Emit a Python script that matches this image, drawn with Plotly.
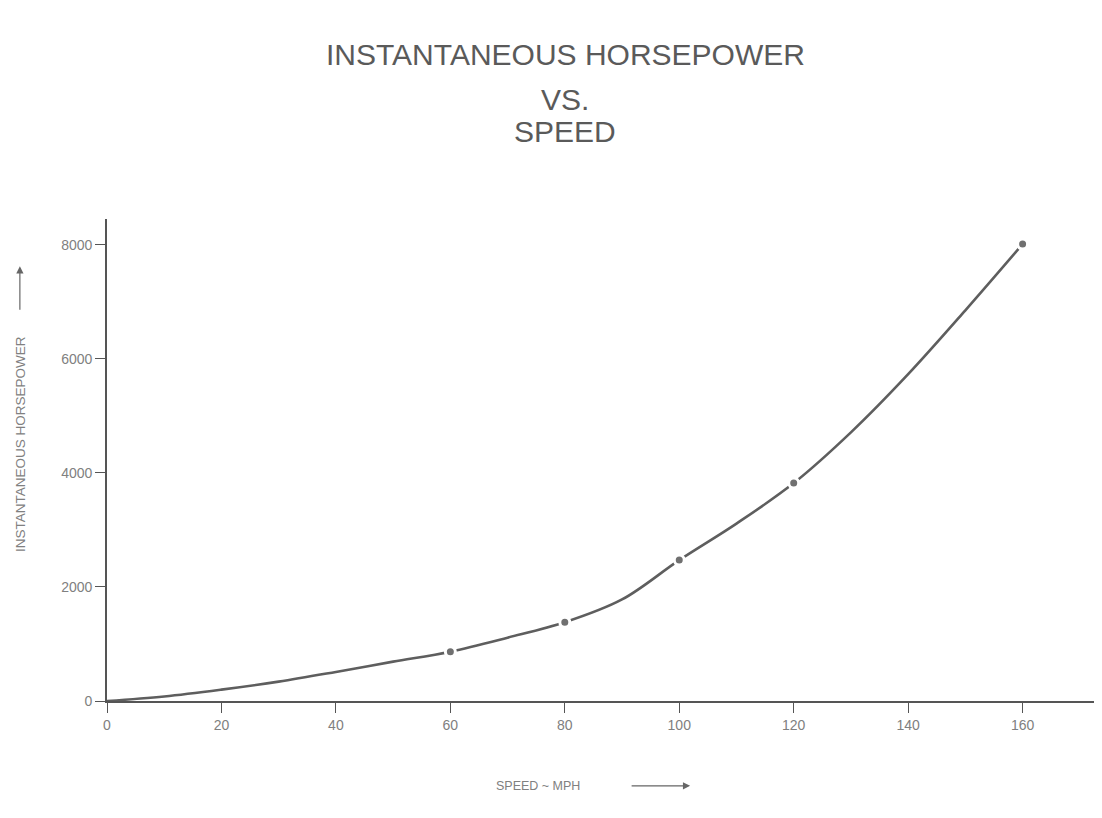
import plotly.graph_objects as go

# Curve (speed in mph, instantaneous horsepower)
speed_curve = [0, 10, 20, 30, 40, 50, 60, 70, 80, 90, 100, 110, 120, 130, 140, 150, 160]
hp_curve = [0, 80, 200, 340, 510, 690, 865, 1110, 1380, 1780, 2470, 3110, 3820, 4710, 5730, 6850, 8010]

# Plotted points (dots on the curve)
speed_pts = [60, 80, 100, 120, 160]
hp_pts = [865, 1380, 2470, 3820, 8010]

x_ticks = [0, 20, 40, 60, 80, 100, 120, 140, 160]
y_ticks = [0, 2000, 4000, 6000, 8000]

title_lines = ["INSTANTANEOUS HORSEPOWER", "VS.", "SPEED"]
x_title = "SPEED ~ MPH"
y_title = "INSTANTANEOUS HORSEPOWER"

FONT = "Liberation Sans, Arial, sans-serif"
INK = "#5a5a5a"
LIGHT = "#808080"

fig = go.Figure()
fig.add_trace(go.Scatter(
    x=speed_curve, y=hp_curve, mode="lines",
    line=dict(color="#5e5e5e", width=2.6, shape="spline", smoothing=1.0),
    hoverinfo="skip", showlegend=False,
))
fig.add_trace(go.Scatter(
    x=speed_pts, y=hp_pts, mode="markers",
    marker=dict(color="#707070", size=10, line=dict(color="white", width=3)),
    showlegend=False,
))

fig.update_xaxes(
    range=[0, 173], tickvals=x_ticks, ticktext=[str(v) for v in x_ticks],
    showgrid=False, zeroline=False, showline=True, linecolor="#555555", linewidth=1.6,
    ticks="outside", ticklen=10, tickwidth=1.4, tickcolor="#555555",
    tickfont=dict(family=FONT, size=14, color=LIGHT),
)
fig.update_yaxes(
    range=[0, 8450], tickvals=y_ticks, ticktext=[str(v) for v in y_ticks],
    showgrid=False, zeroline=False, showline=True, linecolor="#555555", linewidth=1.6,
    ticks="outside", ticklen=10, tickwidth=1.4, tickcolor="#555555",
    tickfont=dict(family=FONT, size=14, color=LIGHT),
)

annotations = []
for text, py in zip(title_lines, [1.342, 1.247, 1.182]):
    annotations.append(dict(
        text=text, x=0.463, y=py, xref="paper", yref="paper",
        xanchor="center", yanchor="middle", showarrow=False,
        font=dict(family=FONT, size=30, color=INK),
    ))
# x-axis title and arrow
annotations.append(dict(
    text=x_title, x=0.435, y=-0.176, xref="paper", yref="paper",
    xanchor="center", yanchor="middle", showarrow=False,
    font=dict(family=FONT, size=12.5, color=LIGHT),
))
annotations.append(dict(
    text="", x=0.589, y=-0.176, xref="paper", yref="paper",
    showarrow=True, ax=-60, ay=0, arrowhead=2, arrowsize=1.2, arrowwidth=1.2,
    arrowcolor="#666666",
))
# y-axis title and arrow
annotations.append(dict(
    text=y_title, x=-0.088, y=0.533, xref="paper", yref="paper",
    xanchor="center", yanchor="middle", showarrow=False, textangle=-90,
    font=dict(family=FONT, size=13.5, color=LIGHT),
))
annotations.append(dict(
    text="", x=-0.088, y=0.902, xref="paper", yref="paper",
    showarrow=True, ax=0, ay=45, arrowhead=2, arrowsize=1.2, arrowwidth=1.2,
    arrowcolor="#666666",
))

fig.update_layout(
    width=1094, height=810,
    margin=dict(l=99, r=5, t=211, b=117),
    paper_bgcolor="white", plot_bgcolor="white",
    annotations=annotations,
    showlegend=False,
)

fig.write_html("out.html")
